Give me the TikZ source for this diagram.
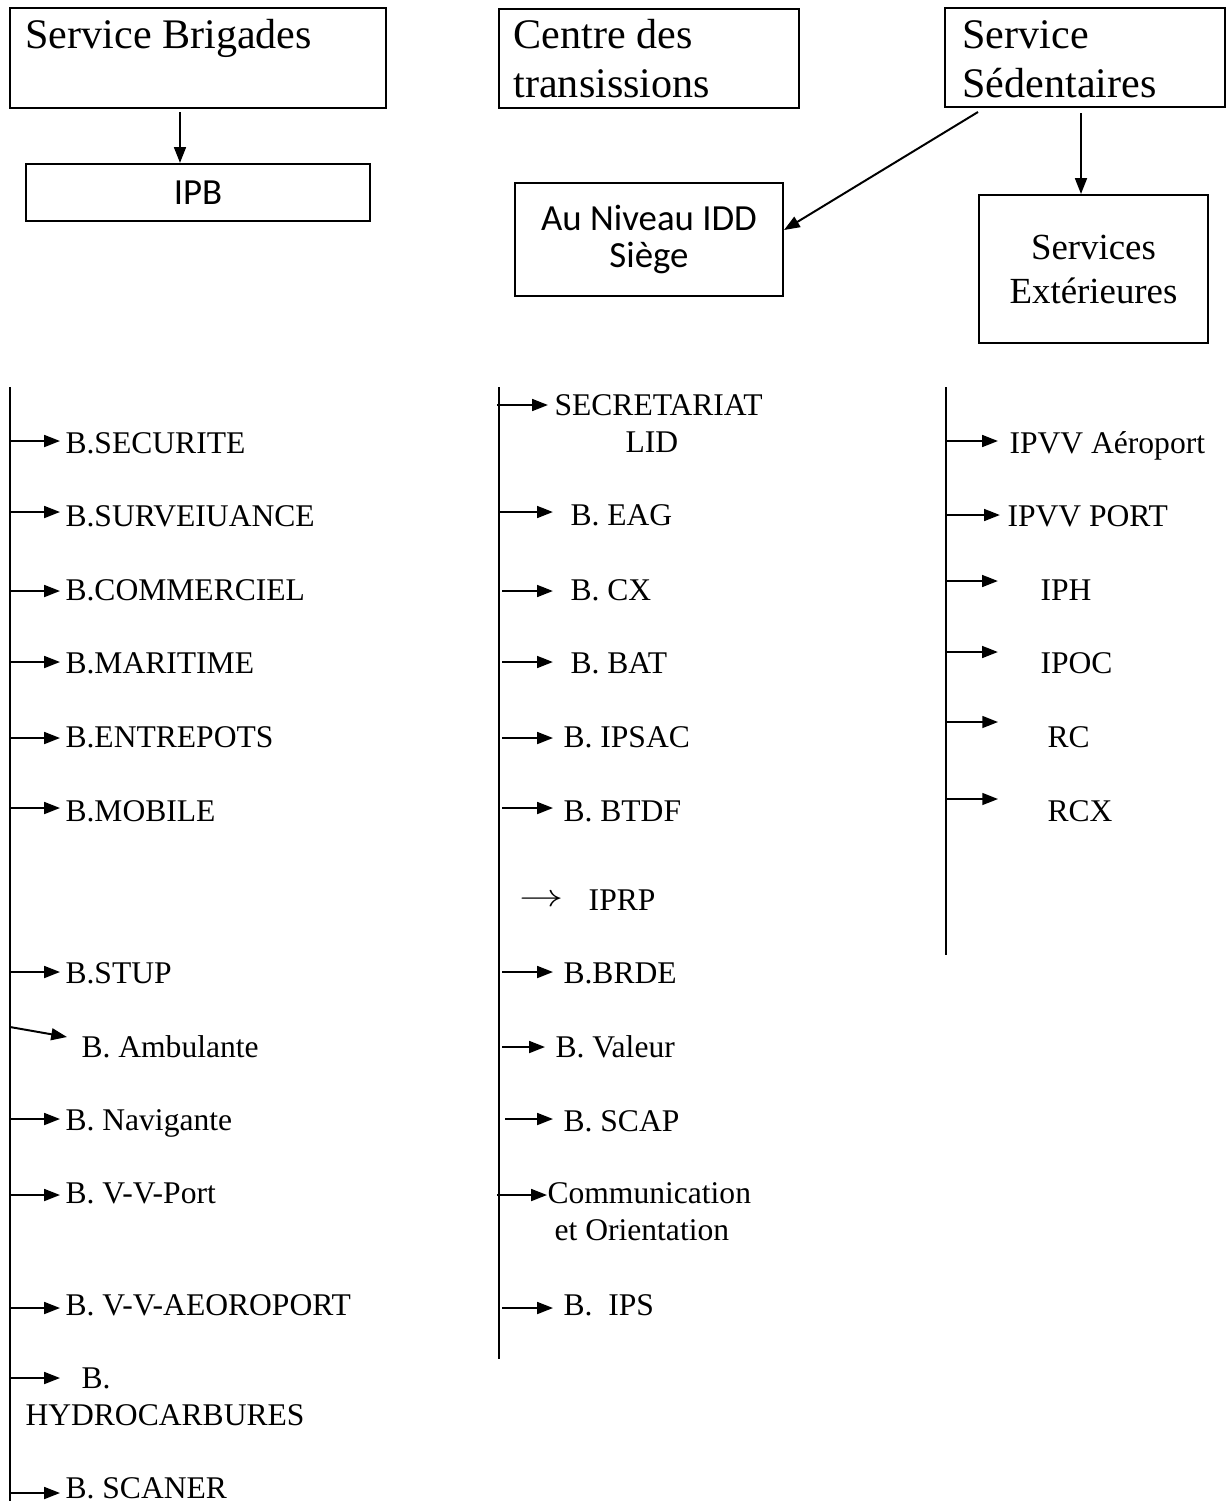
\documentclass[tikz,border=0pt]{standalone}
\usepackage{fontspec}
\usepackage{graphicx}
\setmainfont{Liberation Serif}
\newfontfamily\calibri{Carlito}
\usetikzlibrary{arrows.meta}

\begin{document}
\begin{tikzpicture}[x=0.38pt,y=-0.38pt,
	box/.style={draw, line width=0.8pt, inner sep=0pt},
	head/.style={inner sep=0pt, anchor=base west, align=left, font=\fontsize{16}{18.4}\selectfont},
	item/.style={inner sep=0pt, anchor=base west, align=left, font=\fontsize{12}{14}\selectfont},
	link/.style={line width=0.75pt, -{Triangle[length=6pt,width=4.5pt]}, shorten >=1.9pt},
	trunk/.style={line width=0.8pt}]
	\useasboundingbox (0,0) rectangle (1226,1501);

	% Top boxes (multi-line texts sit on the baseline of their last line)
	\node[box, minimum width=142.9pt, minimum height=38pt] (brig) at (198,58) {};
	\node[head] (brigtxt) at (25,48) {Service Brigades};
	\node[box, minimum width=130.7pt, minimum height=21.7pt, font=\calibri\fontsize{14}{17}\selectfont] (ipb) at (198,192.5) {IPB};

	\node[box, minimum width=114pt, minimum height=37.6pt] (ctr) at (649,58.5) {};
	\node[head] (ctrtxt) at (513,97) {Centre des\\transissions};
	\node[box, minimum width=101.8pt, minimum height=42.9pt, align=center, font=\calibri\fontsize{14}{13.7}\selectfont] (niv) at (649,239.5) {Au Niveau IDD\\Siège};

	\node[box, minimum width=106.4pt, minimum height=37.6pt] (sed) at (1085,57.5) {};
	\node[head] (sedtxt) at (962,97) {Service\\Sédentaires};
	\node[box, minimum width=87pt, minimum height=56.2pt, align=center, font=\fontsize{14}{16.7}\selectfont] (sext) at (1093.5,269) {Services\\Extérieures};

	% Arrows between the boxes
	\coordinate (brigout) at (180,112);
	\draw[link, shorten >=0pt] (brigout) -- (brigout |- ipb.north);
	\coordinate (sedout) at (1081,113);
	\draw[link, shorten >=0pt] (sedout) -- (sedout |- sext.north);
	\coordinate (sedleft) at (978,112);
	\draw[link, shorten >=0pt] (sedleft) -- ([yshift=3.6pt]niv.east);

	% Left list
	\coordinate (lt) at (10,387);
	\coordinate (lb) at (10,1501);
	\draw[trunk] (lt) -- (lb);
	\node[item] (secu) at (65,453) {B.SECURITE};
	\coordinate (l1) at (10,441); \draw[link] (l1) -- (l1 -| secu.west);
	\node[item] (surv) at (65,526) {B.SURVEIUANCE};
	\coordinate (l2) at (10,512); \draw[link] (l2) -- (l2 -| surv.west);
	\node[item] (comm) at (65,600) {B.COMMERCIEL};
	\coordinate (l3) at (10,591); \draw[link] (l3) -- (l3 -| comm.west);
	\node[item] (mari) at (65,673) {B.MARITIME};
	\coordinate (l4) at (10,662); \draw[link] (l4) -- (l4 -| mari.west);
	\node[item] (entr) at (65,747) {B.ENTREPOTS};
	\coordinate (l5) at (10,738); \draw[link] (l5) -- (l5 -| entr.west);
	\node[item] (mobi) at (65,821) {B.MOBILE};
	\coordinate (l6) at (10,808); \draw[link] (l6) -- (l6 -| mobi.west);
	\node[item] (stup) at (65,983) {B.STUP};
	\coordinate (l7) at (10,972); \draw[link] (l7) -- (l7 -| stup.west);
	\node[item] (ambu) at (81,1057) {B. Ambulante};
	\coordinate (l8) at (10,1027); \coordinate (ambutip) at (67,1037);
	\draw[link, shorten >=0pt] (l8) -- (ambutip);
	\node[item] (navi) at (65,1130) {B. Navigante};
	\coordinate (l9) at (10,1119); \draw[link] (l9) -- (l9 -| navi.west);
	\node[item] (vvpo) at (65,1203) {B. V-V-Port};
	\coordinate (l10) at (10,1195); \draw[link] (l10) -- (l10 -| vvpo.west);
	\node[item] (vvae) at (65,1315) {B. V-V-AEOROPORT};
	\coordinate (l11) at (10,1308); \draw[link] (l11) -- (l11 -| vvae.west);
	\node[item, font=\fontsize{12}{13.7}\selectfont] (hydr) at (25,1425) {\hspace*{21.3pt}B.\\HYDROCARBURES};
	\coordinate (l12) at (10,1378); \coordinate (hydrtip) at (60,1378);
	\draw[link, shorten >=0pt] (l12) -- (hydrtip);
	\node[item] (scan) at (65,1498) {B. SCANER};
	\coordinate (l13) at (10,1493); \draw[link] (l13) -- (l13 -| scan.west);

	% Middle list
	\coordinate (mt) at (499,387);
	\coordinate (mb) at (499,1359);
	\draw[trunk] (mt) -- (mb);
	\node[item] (secr) at (554,452) {SECRETARIAT\\\hspace*{27pt}LID};
	\coordinate (m1) at (497,405); \draw[link, shorten >=2.3pt] (m1) -- (m1 -| secr.west);
	\node[item] (eag) at (570,525) {B. EAG};
	\coordinate (m2) at (499,512); \draw[link, shorten >=6.5pt] (m2) -- (m2 -| eag.west);
	\node[item] (cx) at (570,600) {B. CX};
	\coordinate (m3) at (502,591); \draw[link, shorten >=6.5pt] (m3) -- (m3 -| cx.west);
	\node[item] (bat) at (570,673) {B. BAT};
	\coordinate (m4) at (502,662); \draw[link, shorten >=6.5pt] (m4) -- (m4 -| bat.west);
	\node[item] (ipsac) at (563,747) {B. IPSAC};
	\coordinate (m5) at (502,738); \draw[link, shorten >=3.8pt] (m5) -- (m5 -| ipsac.west);
	\node[item] (btdf) at (563,821) {B. BTDF};
	\coordinate (m6) at (502,808); \draw[link, shorten >=3.8pt] (m6) -- (m6 -| btdf.west);
	\node[item] (iprp) at (519,910) {\raisebox{1.5pt}{\scalebox{1.4}[1]{$\rightarrow$}}\hspace{9.5pt}IPRP};
	\node[item] (brde) at (563,983) {B.BRDE};
	\coordinate (m8) at (502,972); \draw[link, shorten >=3.8pt] (m8) -- (m8 -| brde.west);
	\node[item] (vale) at (555,1057) {B. Valeur};
	\coordinate (m9) at (502,1047); \draw[link, shorten >=3.8pt] (m9) -- (m9 -| vale.west);
	\node[item] (scap) at (563,1131) {B. SCAP};
	\coordinate (m10) at (505,1119); \draw[link, shorten >=3.8pt] (m10) -- (m10 -| scap.west);
	\node[item] (como) at (547,1240) {Communication\\\hspace*{2.7pt}et Orientation};
	\coordinate (m11) at (497,1195); \draw[link, shorten >=0pt] (m11) -- (m11 -| como.west);
	\node[item] (ips) at (563,1315) {B.\ \ IPS};
	\coordinate (m12) at (502,1308); \draw[link, shorten >=3.8pt] (m12) -- (m12 -| ips.west);

	% Right list
	\coordinate (rt) at (946,387);
	\coordinate (rb) at (946,955);
	\draw[trunk] (rt) -- (rb);
	\node[item] (aero) at (1009,453) {IPVV Aéroport};
	\coordinate (r1) at (946,441); \draw[link, shorten >=4.2pt] (r1) -- (r1 -| aero.west);
	\node[item] (port) at (1007,526) {IPVV PORT};
	\coordinate (r2) at (946,515); \draw[link, shorten >=2.7pt] (r2) -- (r2 -| port.west);
	\node[item] (iph) at (1040,600) {IPH};
	\coordinate (r3) at (946,581); \draw[link, shorten >=16pt] (r3) -- (r3 -| iph.west);
	\node[item] (ipoc) at (1040,673) {IPOC};
	\coordinate (r4) at (946,652); \draw[link, shorten >=16pt] (r4) -- (r4 -| ipoc.west);
	\node[item] (rc) at (1047,747) {RC};
	\coordinate (r5) at (946,722); \draw[link, shorten >=18.6pt] (r5) -- (r5 -| rc.west);
	\node[item] (rcx) at (1047,821) {RCX};
	\coordinate (r6) at (946,799); \draw[link, shorten >=18.6pt] (r6) -- (r6 -| rcx.west);
\end{tikzpicture}
\end{document}
